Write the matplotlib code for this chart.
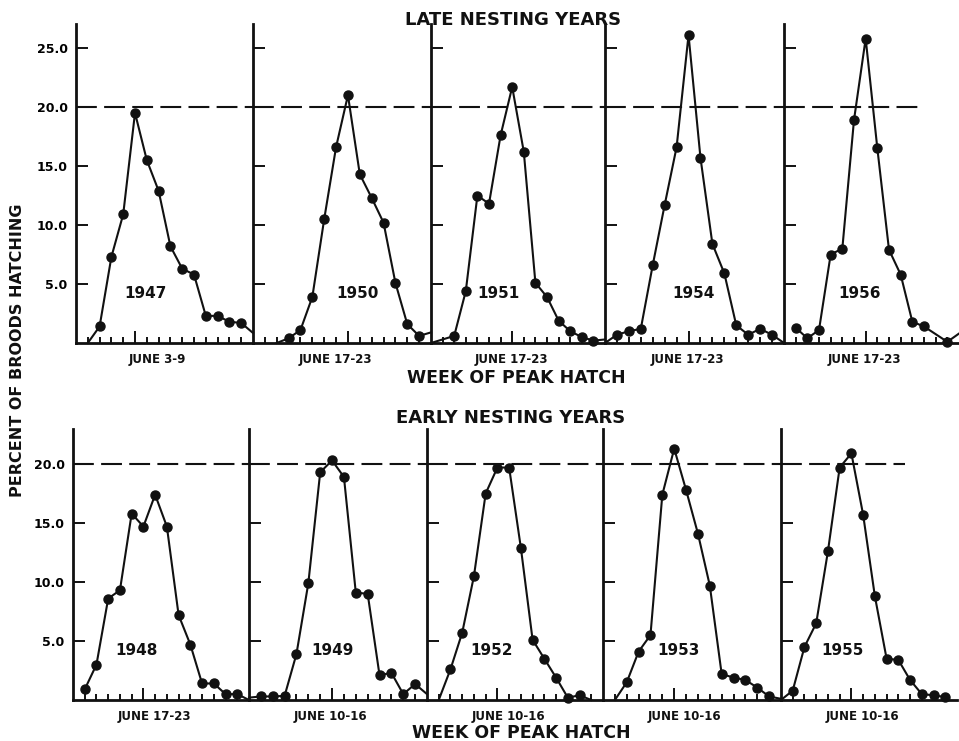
import matplotlib
matplotlib.use('Agg')
from matplotlib import pyplot as plt

plt.rc('font', family='DejaVu Sans', weight='bold')
ink = '#111111'

# ---- late nesting years (top row) ----
late_years = ['1947', '1950', '1951', '1954', '1956']
late_weeks = ['JUNE 3-9', 'JUNE 17-23', 'JUNE 17-23', 'JUNE 17-23', 'JUNE 17-23']
late_peak_week = [5, 8, 7, 7, 7]
late_x = [
    [1, 2, 3, 4, 5, 6, 7, 8, 9, 10, 11, 12, 13, 14, 15],
    [2, 3, 4, 5, 6, 7, 8, 9, 10, 11, 12, 13, 14, 15],
    [0, 2, 3, 4, 5, 6, 7, 8, 9, 10, 11, 12, 13, 14, 15],
    [0, 1, 2, 3, 4, 5, 6, 7, 8, 9, 10, 11, 12, 13, 14, 15],
    [1, 2, 3, 4, 5, 6, 7, 8, 9, 10, 11, 12, 14, 15],
]
late_pct = [
    [0, 1.4, 7.3, 10.9, 19.5, 15.5, 12.9, 8.2, 6.3, 5.8, 2.3, 2.3, 1.8, 1.7, 0.85],
    [0, 0.4, 1.1, 3.9, 10.5, 16.6, 21.0, 14.3, 12.3, 10.2, 5.1, 1.6, 0.6, 0.9],
    [0, 0.6, 4.4, 12.5, 11.8, 17.6, 21.7, 16.2, 5.1, 3.9, 1.9, 1.0, 0.5, 0.2, 0.3],
    [0, 0.7, 1.0, 1.2, 6.6, 11.7, 16.6, 26.1, 15.7, 8.4, 5.9, 1.5, 0.7, 1.2, 0.7, 0],
    [1.3, 0.4, 1.1, 7.5, 8.0, 18.9, 25.8, 16.5, 7.9, 5.8, 1.8, 1.4, 0.1, 0.8],
]
late_marked = [slice(1, -1), slice(1, -1), slice(1, -1), slice(1, -1), slice(0, -1)]

# ---- early nesting years (bottom row) ----
early_years = ['1948', '1949', '1952', '1953', '1955']
early_weeks = ['JUNE 17-23', 'JUNE 10-16', 'JUNE 10-16', 'JUNE 10-16', 'JUNE 10-16']
early_peak_week = [6, 7, 6, 6, 6]
early_x = [
    [1, 2, 3, 4, 5, 6, 7, 8, 9, 10, 11, 12, 13, 14, 15],
    [0, 1, 2, 3, 4, 5, 6, 7, 8, 9, 10, 11, 12, 13, 14, 15],
    [1, 2, 3, 4, 5, 6, 7, 8, 9, 10, 11, 12, 13, 14],
    [1, 2, 3, 4, 5, 6, 7, 8, 9, 10, 11, 12, 13, 14, 15],
    [0, 1, 2, 3, 4, 5, 6, 7, 8, 9, 10, 11, 12, 13, 14],
]
early_pct = [
    [0.9, 3.0, 8.6, 9.3, 15.8, 14.7, 17.4, 14.7, 7.2, 4.7, 1.4, 1.4, 0.5, 0.5, 0],
    [0.2, 0.3, 0.3, 0.35, 3.9, 9.9, 19.3, 20.3, 18.9, 9.1, 9.0, 2.1, 2.3, 0.5, 1.35, 0.5],
    [0, 2.6, 5.7, 10.5, 17.5, 19.7, 19.7, 12.9, 5.1, 3.5, 1.9, 0.2, 0.4, 0],
    [0, 1.5, 4.1, 5.5, 17.4, 21.3, 17.8, 14.1, 9.7, 2.2, 1.9, 1.7, 1.05, 0.3, 0.1],
    [0, 0.8, 4.5, 6.5, 12.6, 19.7, 20.9, 15.7, 8.8, 3.5, 3.4, 1.7, 0.5, 0.4, 0.25],
]
early_marked = [slice(0, -1), slice(1, -1), slice(1, -1), slice(1, -1), slice(1, None)]

W, H = 959, 741
px_per_unit = 11.8

rows = [
    dict(lefts=[76, 253, 431, 605, 784], right=959, base=343, top=27,
         yticks=[5, 10, 15, 20, 25], dash_end=11.9, year_xy=[5.9, 8.8, 5.8, 7.4, 6.5],
         years=late_years, weeks=late_weeks, peak=late_peak_week,
         xs=late_x, ys=late_pct, marks=late_marked),
    dict(lefts=[73, 249, 427, 603, 781], right=957, base=700, top=23,
         yticks=[5, 10, 15, 20], dash_end=10.6, year_xy=[5.4, 7.0, 5.5, 6.4, 5.2],
         years=early_years, weeks=early_weeks, peak=early_peak_week,
         xs=early_x, ys=early_pct, marks=early_marked),
]

fig = plt.figure(figsize=(W / 100, H / 100), dpi=100)

for row in rows:
    edges = row['lefts'] + [row['right']]
    h = row['top'] * px_per_unit
    for k in range(5):
        l, r = edges[k], edges[k + 1]
        ax = fig.add_axes([l / W, (H - row['base']) / H, (r - l) / W, h / H])
        ax.patch.set_alpha(0)
        ax.set_xlim(0, 15)
        ax.set_ylim(0, row['top'])
        for s in ['top', 'right']:
            ax.spines[s].set_visible(False)
        for s in ['left', 'bottom']:
            ax.spines[s].set_linewidth(2)
            ax.spines[s].set_color(ink)

        ax.set_yticks(row['yticks'])
        if k == 0:
            ax.set_yticklabels([f'{v:.1f}' for v in row['yticks']])
        else:
            ax.set_yticklabels([])
        ax.tick_params(axis='y', direction='in', length=8.5, width=1.4,
                       color=ink, labelsize=9, pad=6)

        ax.set_xticks([row['peak'][k]])
        ax.set_xticklabels([])
        ax.set_xticks([i for i in range(1, 15) if i != row['peak'][k]], minor=True)
        ax.tick_params(axis='x', which='major', direction='in', length=8.5, width=1.4, color=ink)
        ax.tick_params(axis='x', which='minor', direction='in', length=4.5, width=1.4, color=ink)

        end = row['dash_end'] if k == 4 else 15
        ax.hlines(20, 0, end, colors=ink, linewidth=1.5,
                  linestyles=(0, (10, 3.5)), clip_on=False)

        ax.plot(row['xs'][k], row['ys'][k], color=ink, linewidth=1.5,
                marker='o', markersize=6.5, markevery=row['marks'][k], clip_on=False)

        ax.text(row['year_xy'][k], 4.2, row['years'][k], ha='center', va='center',
                fontsize=11, color=ink)
        ax.annotate(row['weeks'][k], xy=(6.9, 0), xycoords='data',
                    xytext=(0, -7), textcoords='offset points',
                    ha='center', va='top', fontsize=8.5, color=ink)

fig.text(513 / W, 1 - 20 / H, 'LATE NESTING YEARS', ha='center', va='center',
         fontsize=13, color=ink)
fig.text(516 / W, 1 - 378 / H, 'WEEK OF PEAK HATCH', ha='center', va='center',
         fontsize=12.5, color=ink)
fig.text(511 / W, 1 - 418 / H, 'EARLY NESTING YEARS', ha='center', va='center',
         fontsize=13, color=ink)
fig.text(521 / W, 1 - 733 / H, 'WEEK OF PEAK HATCH', ha='center', va='center',
         fontsize=12.5, color=ink)
fig.text(18 / W, 1 - 350 / H, 'PERCENT OF BROODS HATCHING', rotation=90,
         ha='center', va='center', fontsize=11.5, color=ink)

plt.savefig('out.png', dpi=100, facecolor='white')
plt.close()
